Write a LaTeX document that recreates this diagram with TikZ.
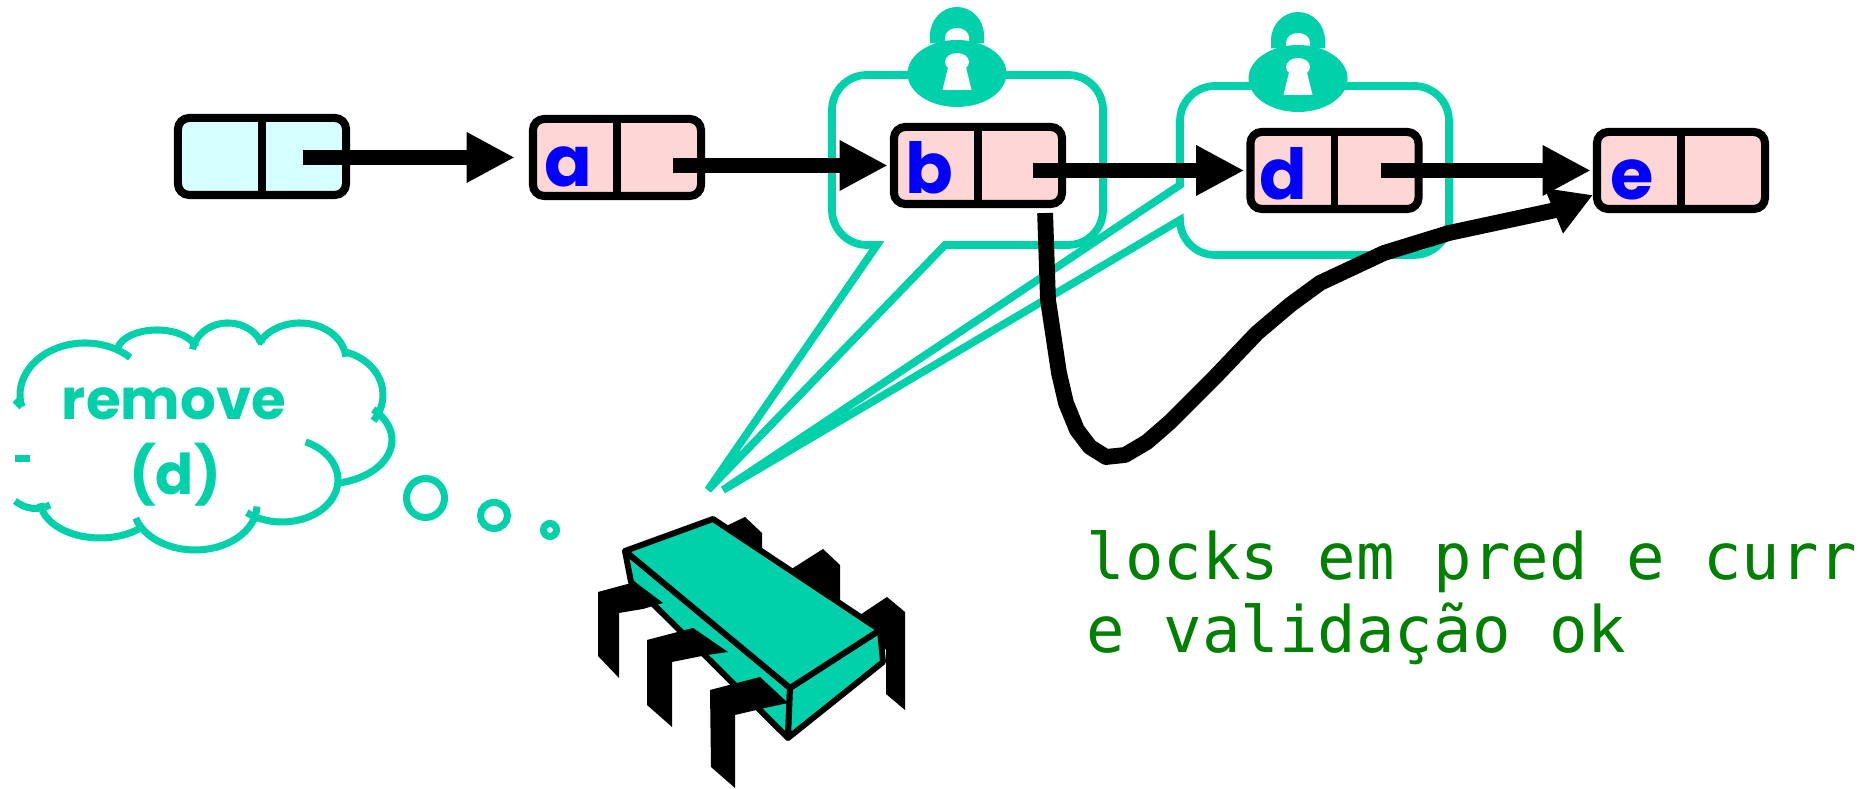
\documentclass[tikz,border=0pt]{standalone}
\usepackage{fontspec}
\usetikzlibrary{positioning,calc,arrows.meta}
\newfontfamily\handfont{Poppins}
\newfontfamily\notefont{DejaVu Sans Mono}
\definecolor{lockteal}{RGB}{0,209,170}
\definecolor{nodepink}{RGB}{255,214,214}
\definecolor{headcyan}{RGB}{214,255,255}
\definecolor{notegreen}{RGB}{0,128,0}
\tikzset{
  cell/.style={draw, line width=2.3pt, rounded corners=3.2pt, fill=nodepink,
    minimum width=1.68cm, minimum height=0.77cm, inner sep=0pt},
  headcell/.style={cell, fill=headcyan},
  divider/.style={line width=2pt},
  lbl/.style={text=blue, font=\handfont\bfseries\fontsize{20pt}{24pt}\selectfont, inner sep=0pt},
  ptr/.style={line width=4.5pt, -{Triangle[length=13.7pt,width=13.4pt]}, shorten >=0.6pt},
  jump/.style={line width=4.5pt, line join=round, -{Triangle[length=12pt,width=13pt]}},
  lockline/.style={draw=lockteal, line width=2.2pt},
  thought/.style={text=lockteal, font=\handfont\bfseries\fontsize{16pt}{19pt}\selectfont, inner sep=0pt},
  note/.style={text=notegreen, font=\notefont\fontsize{18.2pt}{21pt}\selectfont, inner sep=0pt},
  padlock/.pic={
    \fill[lockteal] (-27,30) -- (-27,38) arc[start angle=180, end angle=0, x radius=27, y radius=28.5] -- (27,30) -- cycle;
    \fill[white] (-12,30) -- (-12,36) arc[start angle=180, end angle=0, x radius=12, y radius=9.5] -- (12,30) -- cycle;
    \fill[lockteal] (0,0) ellipse[x radius=49.5, y radius=33.5];
    \fill[white] (0,11.5) ellipse[x radius=12, y radius=9];
    \fill[white] (-9,6) -- (9,6) -- (14.5,-16.5) -- (-14.5,-16.5) -- cycle;
  }
}

\begin{document}
\begin{tikzpicture}[x=0.01cm, y=0.01cm]
\useasboundingbox (0,0) rectangle (1872,789);

% lock regions around pred and curr
\draw[lockline] (708,299) -- (945,544) -- (1068,544) arc[start angle=-90, end angle=0, radius=35]
  -- (1103,679) arc[start angle=0, end angle=90, radius=35]
  -- (867,714) arc[start angle=90, end angle=180, radius=35]
  -- (832,579) arc[start angle=180, end angle=270, radius=35] -- (877,544) -- cycle;
\draw[lockline] (723,299) -- (1180,604) -- (1180,668) arc[start angle=180, end angle=90, radius=35]
  -- (1414,703) arc[start angle=90, end angle=0, radius=35]
  -- (1449,569) arc[start angle=0, end angle=-90, radius=35]
  -- (1215,534) arc[start angle=270, end angle=180, radius=35] -- cycle;
\pic at (957,715.5) {padlock};
\pic at (1298,710.5) {padlock};

% the list
\node[headcell] (head) at (262,632.5) {};
\node[cell] (a) at (617,631.5) {};
\node[cell] (b) at (978,623.5) {};
\node[cell] (d) at (1334.5,618.5) {};
\node[cell] (e) at (1681,618.5) {};
\draw[divider] (head.north) -- (head.south);
\draw[divider] (a.north) -- (a.south);
\draw[divider] (b.north) -- (b.south);
\draw[divider] (d.north) -- (d.south);
\draw[divider] (e.north) -- (e.south);
\node[lbl, anchor=base] (la) at ($(a.center)+(-49,-29.5)$) {a};
\node[lbl, anchor=base] (lb) at ($(b.center)+(-49,-28)$) {b};
\node[lbl, anchor=base] (ld) at ($(d.center)+(-51,-29.5)$) {d};
\node[lbl, anchor=base] (le) at ($(e.center)+(-49,-29.5)$) {e};

\draw[ptr, shorten >=4pt] ($(head.east |- a.west)+(-47,0)$) -- (a.west);
\draw[ptr] ($(a.east |- b.west)+(-32,0)$) -- (b.west);
\draw[ptr] ($(b.east |- d.west)+(-33,0)$) -- (d.west);
\draw[ptr] ($(d.east |- e.west)+(-42,0)$) -- (e.west);

% b.next swung over to e
\coordinate (bnext) at ($(b.south east)+(-21,-5)$);
\coordinate (etip) at ($(e.south west)+(0,18)$);
\draw[jump] (bnext) -- (1048,489) -- (1059,416) -- (1066,386) -- (1077,359) -- (1090,342)
  -- (1106,332) -- (1125,334) -- (1147,347) -- (1170,367) -- (1215,412) -- (1257,456)
  -- (1290,484) -- (1320,506) -- (1384,536) -- (1449,556) -- (1556,579) -- (etip);

% thought cloud
\begin{scope}[lockteal, line width=2pt]
\draw (85,394) ++(193:65 and 52) arc[start angle=193, end angle=46, x radius=65, y radius=52];
\draw (157,437) ++(172:40 and 22) arc[start angle=172, end angle=13, x radius=40, y radius=22];
\draw (228,434) ++(170:36 and 32) arc[start angle=170, end angle=20, x radius=36, y radius=32];
\draw (300,429) ++(154:46 and 37) arc[start angle=154, end angle=5, x radius=46, y radius=37];
\draw (330,394) ++(75:53 and 45) arc[start angle=75, end angle=-35, x radius=53, y radius=45];
\draw (325,349) ++(44:67 and 44) arc[start angle=44, end angle=-78, x radius=67, y radius=44];
\draw (282,309) ++(65:56 and 42) arc[start angle=65, end angle=-129, x radius=56, y radius=42];
\draw (195,284) ++(-2:62 and 45) arc[start angle=-2, end angle=-163, x radius=62, y radius=45];
\draw (100,289) ++(-47:60 and 38) arc[start angle=-47, end angle=-175, x radius=60, y radius=38];
\draw (50,284) .. controls (38,278) and (25,280) .. (15,288);
\draw (15,330) -- (30,330);
\draw (22,382) -- (15,389);
\draw (425.5,291) ellipse[x radius=19, y radius=19.5];
\draw (494,273.5) ellipse[x radius=13.5, y radius=13];
\draw (550,259) ellipse[x radius=6.5, y radius=6.5];
\end{scope}
\node[thought, anchor=base] (rm) at (174,369) {remove};
\node[thought, anchor=base] (rd) at (175,294) {(d)};

% the thread
\begin{scope}[line width=1.7pt, line join=round]
\fill (720,260) -- (745,272) -- (762,256) -- (762,233) -- cycle;
\fill (790,219) -- (823,240) -- (840,224) -- (840,184) -- cycle;
\fill (860,174) -- (887,192) -- (905,177) -- (905,79) -- (886,95) -- (886,139) -- cycle;
\filldraw[fill=lockteal] (625,238) -- (790,101) -- (788,51) -- (631,207) -- cycle;
\filldraw[fill=lockteal] (790,101) -- (880,159) -- (883,127) -- (788,51) -- cycle;
\filldraw[fill=lockteal] (625,238) -- (713,270) -- (880,159) -- (790,101) -- cycle;
\fill (598,197) -- (635,207) -- (663,186) -- (643,180) -- (619,176) -- (619,111) -- (598,133) -- cycle;
\fill (647,149) -- (693,161) -- (728,137) -- (707,134) -- (672,127) -- (672,62) -- (647,84) -- cycle;
\fill (710,99) -- (760,112) -- (788,86) -- (765,81) -- (735,74) -- (735,1) -- (711,22) -- cycle;
\end{scope}

\node[note, anchor=base west] (n1) at (1086,209) {locks em pred e curr};
\node[note, anchor=base west] (n2) at (1086,136) {e validação ok};
\end{tikzpicture}
\end{document}
